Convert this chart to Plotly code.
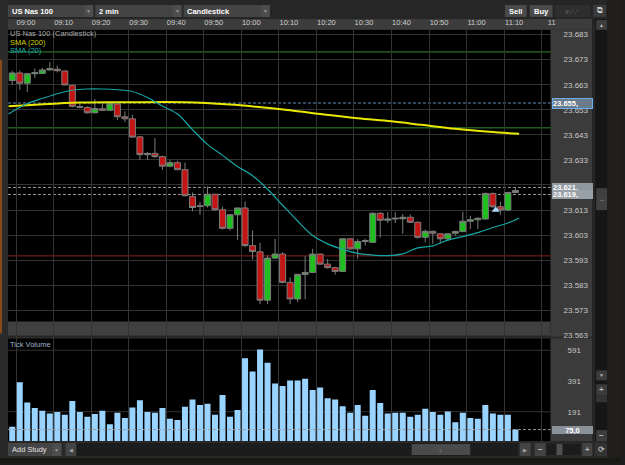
import plotly.graph_objects as go
import pandas as pd

# ---------------- data ----------------
open_ = [23664.7, 23667.7, 23663.6, 23667.4, 23667.5, 23668.9, 23669.2, 23668.5, 23662.8, 23654.3,
         23653.9, 23651.8, 23653.4, 23652.8, 23655.3, 23650.2, 23649.4, 23642.2, 23635.1, 23635.6,
         23634.3, 23630.5, 23631.9, 23629.1, 23618.4, 23614.7, 23614.7, 23619.3, 23613.1, 23605.7,
         23611.1, 23613.8, 23598.8, 23596.3, 23577.0, 23593.8, 23595.4, 23584.1, 23577.5, 23587.3,
         23588.1, 23595.4, 23591.4, 23590.0, 23588.5, 23601.5, 23597.5, 23600.4, 23600.1, 23611.7,
         23608.9, 23609.4, 23609.5, 23610.1, 23608.1, 23602.1, 23604.5, 23603.5, 23601.5, 23603.7,
         23604.4, 23608.5, 23609.1, 23609.4, 23619.6, 23614.3, 23613.0, 23620.0]
high = [23668.6, 23668.7, 23667.7, 23669.5, 23669.8, 23672.0, 23670.6, 23668.7, 23662.9, 23655.3,
        23654.4, 23657.3, 23655.7, 23656.4, 23655.7, 23652.4, 23651.0, 23642.5, 23636.2, 23641.7,
        23634.7, 23633.0, 23632.7, 23631.9, 23620.0, 23616.3, 23622.4, 23619.4, 23614.3, 23611.4,
        23614.0, 23616.4, 23604.8, 23599.9, 23594.9, 23601.5, 23596.2, 23586.1, 23587.6, 23594.6,
        23597.5, 23595.6, 23593.5, 23590.4, 23601.7, 23601.7, 23601.5, 23601.5, 23612.1, 23612.1,
        23612.1, 23612.1, 23611.4, 23611.3, 23608.4, 23605.2, 23604.8, 23603.7, 23603.7, 23604.8,
        23612.3, 23610.7, 23610.1, 23620.0, 23620.0, 23616.3, 23620.3, 23621.9]
low = [23663.0, 23661.0, 23660.1, 23665.7, 23667.5, 23668.7, 23667.9, 23662.8, 23653.9, 23653.6,
       23651.5, 23651.5, 23652.6, 23652.6, 23648.9, 23648.1, 23641.8, 23633.0, 23633.0, 23633.8,
       23629.0, 23630.1, 23628.9, 23618.4, 23612.5, 23611.1, 23614.0, 23612.7, 23605.2, 23604.8,
       23601.1, 23598.2, 23593.3, 23575.4, 23575.4, 23593.5, 23583.7, 23575.4, 23576.3, 23577.4,
       23587.8, 23591.1, 23589.6, 23587.2, 23588.2, 23597.1, 23593.5, 23598.8, 23599.9, 23602.0,
       23607.8, 23607.8, 23603.5, 23607.8, 23601.5, 23600.1, 23599.5, 23599.7, 23600.8, 23602.8,
       23604.1, 23605.4, 23605.4, 23609.1, 23613.9, 23611.1, 23612.5, 23619.7]
close = [23667.7, 23663.6, 23667.4, 23667.8, 23668.9, 23669.4, 23668.6, 23662.9, 23654.4, 23654.0,
         23651.8, 23653.5, 23652.8, 23655.6, 23650.2, 23649.4, 23642.1, 23635.1, 23635.6, 23634.3,
         23630.5, 23631.9, 23629.1, 23618.7, 23614.0, 23614.4, 23619.3, 23613.1, 23605.7, 23611.1,
         23613.8, 23598.8, 23596.4, 23577.0, 23593.8, 23595.4, 23584.1, 23577.5, 23587.3, 23588.1,
         23595.4, 23591.4, 23590.0, 23588.5, 23601.5, 23597.5, 23600.4, 23600.8, 23611.7, 23608.9,
         23609.4, 23609.7, 23610.1, 23608.1, 23602.1, 23604.5, 23603.7, 23601.5, 23603.5, 23604.4,
         23608.5, 23609.1, 23609.7, 23619.6, 23614.3, 23613.0, 23620.0, 23620.8]
tick_volume = [93, 382, 251, 215, 198, 180, 189, 172, 260, 189,
               159, 176, 198, 110, 185, 150, 219, 266, 189, 185,
               215, 146, 137, 223, 270, 234, 243, 172, 300, 159,
               202, 538, 452, 596, 510, 375, 358, 394, 394, 405,
               332, 349, 279, 270, 227, 185, 234, 165, 332, 247,
               180, 185, 185, 159, 172, 210, 189, 172, 193, 123,
               185, 150, 146, 234, 180, 172, 172, 75]
DAY = "2025-12-05 "
candle_times = pd.date_range(DAY + "08:59", periods=len(close), freq="2min")

sma20_t = ["08:58", "09:03", "09:07", "09:11", "09:15", "09:19", "09:23", "09:27", "09:31", "09:35",
           "09:39", "09:43", "09:47", "09:51", "09:55", "09:59", "10:03", "10:07", "10:11", "10:15",
           "10:19", "10:23", "10:27", "10:31", "10:35", "10:39", "10:43", "10:47", "10:51", "10:55",
           "10:59", "11:03", "11:07", "11:11", "11:14"]
sma20_v = [23651.3, 23655.5, 23657.5, 23659.4, 23660.8, 23661.3, 23661.3, 23661.0, 23660.3, 23657.9,
           23654.5, 23651.3, 23645.1, 23639.2, 23634.8, 23630.4, 23626.7, 23621.3, 23614.9, 23608.6,
           23602.8, 23599.5, 23597.3, 23595.7, 23595.0, 23594.8, 23595.5, 23597.9, 23598.7, 23601.0,
           23602.4, 23604.0, 23606.0, 23607.8, 23609.8]
sma200_t = ["08:58", "09:04", "09:17", "09:30", "09:45", "09:57", "10:04", "10:13", "10:22", "10:31",
            "10:40", "10:48", "10:57", "11:06", "11:14"]
sma200_v = [23654.4, 23654.9, 23655.9, 23656.0, 23656.0, 23655.1, 23654.2, 23652.8, 23651.1, 23649.6,
            23648.4, 23647.0, 23645.4, 23644.2, 23643.4]

green_levels = [23676.1, 23645.8]
red_levels = [23594.7]
quote_levels = [23655.7, 23622.0, 23619.2]
quote_labels = ["23.655,", "23.621,", "23.619,"]
volume_level = 75
volume_label = "75,0"
marker_time = "11:07:45"
marker_price = 23613.0

time_ticks = ["09:00", "09:10", "09:20", "09:30", "09:40", "09:50", "10:00", "10:10", "10:20",
              "10:30", "10:40", "10:50", "11:00", "11:10", "11:20"]
time_tick_text = ["09:00", "09:10", "09:20", "09:30", "09:40", "09:50", "10:00", "10:10", "10:20",
                  "10:30", "10:40", "10:50", "11:00", "11:10", "11"]
price_ticks = [23563, 23573, 23583, 23593, 23603, 23613, 23623, 23633, 23643, 23653, 23663, 23673, 23683]
volume_ticks = [191, 391, 591]
volume_grid = [191, 591]

# ---------------- helpers ----------------
W, H = 625, 465
FONT = "Liberation Sans, Arial, sans-serif"


def px(x):
    return x / W


def py(y):
    return 1 - y / H


shapes = []
annos = []


def rect(x0, y0, x1, y1, fill, line=None, layer="below", lw=1):
    shapes.append(dict(type="rect", xref="paper", yref="paper", x0=px(x0), x1=px(x1),
                       y0=py(y1), y1=py(y0), fillcolor=fill, layer=layer,
                       line=dict(width=lw if line else 0, color=line or fill)))


def text(x, y, s, size=7.5, color="#ffffff", bold=False, xanchor="left"):
    annos.append(dict(xref="paper", yref="paper", x=px(x), y=py(y), text=(f"<b>{s}</b>" if bold else s),
                      showarrow=False, xanchor=xanchor, yanchor="middle",
                      font=dict(size=size, color=color, family=FONT), borderpad=0))


# ---------------- chrome ----------------
rect(0, 0, 612, 19, "#262626")
rect(0, 0, 8, 465, "#2a2a2a")
rect(0, 60, 2, 335, "#8a4a18")
rect(612, 0, 625, 465, "#221e1b")
rect(8, 19, 597, 30, "#3c3c3c")
rect(555, 30, 597, 443, "#3b3b3b")
rect(8, 323, 555, 338, "#404040")
rect(8, 338, 597, 340, "#2a2a2a")
rect(597, 19, 600, 443, "#262626")
rect(600, 19, 612, 443, "#161616")
rect(0, 443, 612, 460, "#282828")
rect(0, 460, 625, 465, "#1a1a14")

# toolbar dropdowns
for (x0, x1, lab) in [(8, 94, "US Nas 100"), (96, 183, "2 min"), (185, 272, "Candlestick")]:
    rect(x0, 5, x1, 17, "#444444")
    rect(x1 - 9, 5, x1, 17, "#4d4d4d")
    text(x0 + 3, 11.2, lab, size=7.5, bold=True)
    text(x1 - 4.5, 11.2, "▼", size=5, color="#9a9a9a", xanchor="center")
rect(509, 5, 531, 17, "#4a4a4a")
text(520, 11.2, "Sell", size=7.5, bold=True, xanchor="center")
rect(534, 5, 557, 17, "#4a4a4a")
text(545.5, 11.2, "Buy", size=7.5, bold=True, xanchor="center")
rect(559, 5, 595, 17, "#2e2e2e")
text(577, 11.2, "⩔ ∕ ⟋", size=7, color="#6a6a6a", xanchor="center")
rect(598, 5, 611, 17, "#3a3a3a")
text(604.5, 11, "⧉", size=8, color="#cfcfcf", xanchor="center")

# right scrollbar
rect(601, 20, 612, 30, "#3c3c3c")
text(606.5, 25, "▲", size=5, color="#bbbbbb", xanchor="center")
rect(601, 189, 612, 211, "#404040")
text(606.5, 200, "▬", size=4, color="#666666", xanchor="center")
rect(601, 372, 612, 382, "#3c3c3c")
text(606.5, 377, "▼", size=5, color="#bbbbbb", xanchor="center")
rect(601, 386, 612, 397, "#3c3c3c")
text(606.5, 391.5, "+", size=8, color="#bbbbbb", bold=True, xanchor="center")
rect(601, 397, 612, 404, "#333333")
rect(601, 432, 612, 443, "#3c3c3c")
text(606.5, 437.5, "−", size=8, color="#bbbbbb", bold=True, xanchor="center")

# bottom bar
rect(8, 445, 52, 458, "#444444")
rect(52, 445, 62, 458, "#4d4d4d")
text(11, 451.5, "Add Study", size=7.5, color="#e0e0e0")
text(57, 451.5, "▼", size=5, color="#9a9a9a", xanchor="center")
rect(66, 445, 77, 458, "#444444")
text(71.5, 451.5, "◀", size=5, color="#aaaaaa", xanchor="center")
rect(77, 445, 522, 458, "#1c1c1c")
rect(415, 446, 474, 457, "#4a4a4a")
text(444.5, 451.5, "▮", size=5, color="#5e5e5e", xanchor="center")
rect(524, 445, 535, 458, "#444444")
text(529.5, 451.5, "▶", size=5, color="#aaaaaa", xanchor="center")
rect(539, 445, 550, 458, "#444444")
text(544.5, 451.5, "−", size=8, color="#bbbbbb", bold=True, xanchor="center")
rect(551, 446, 585, 457, "#1c1c1c")
rect(561, 446, 567, 457, "#505050")
rect(587, 445, 597, 458, "#444444")
text(592, 451.5, "+", size=8, color="#bbbbbb", bold=True, xanchor="center")
rect(600, 445, 612, 458, "#333333")
text(606, 451.5, "⟳", size=8, color="#dddddd", xanchor="center")

# ---------------- level lines ----------------
for lv in green_levels:
    shapes.append(dict(type="line", xref="paper", yref="y", x0=px(8), x1=px(555), y0=lv, y1=lv,
                       line=dict(color="#2f8a2f", width=1), layer="between"))
for lv in red_levels:
    shapes.append(dict(type="line", xref="paper", yref="y", x0=px(8), x1=px(555), y0=lv, y1=lv,
                       line=dict(color="#8a1f1f", width=1), layer="between"))
qcols = ["#5f8fc0", "#9a9a9a", "#9a9a9a"]
for lv, c in zip(quote_levels, qcols):
    shapes.append(dict(type="line", xref="paper", yref="y", x0=px(8), x1=px(555), y0=lv, y1=lv,
                       line=dict(color=c, width=1, dash="3px,2px"), layer="between"))
for lv in volume_grid:
    shapes.append(dict(type="line", xref="paper", yref="y2", x0=px(8), x1=px(555), y0=lv, y1=lv,
                       line=dict(color="#333333", width=1), layer="between"))
shapes.append(dict(type="line", xref="paper", yref="y2", x0=px(8), x1=px(555), y0=volume_level,
                   y1=volume_level, line=dict(color="#9a9a9a", width=1, dash="3px,2px"), layer="above"))

# price tags
tag_fill = ["#6a7b8c", "#8f979f", "#98a0a8"]
tag_line = ["#6aaef0", "#8f979f", "#98a0a8"]
tag_h = [9, 7, 7]
for lv, lab, f, l, hh in zip(quote_levels, quote_labels, tag_fill, tag_line, tag_h):
    annos.append(dict(xref="paper", yref="y", x=px(556), y=lv, text=f"<b>{lab}</b>", showarrow=False,
                      xanchor="left", yanchor="middle", bgcolor=f, bordercolor=l, borderwidth=1,
                      borderpad=0, width=39, height=hh, align="left", valign="middle",
                      font=dict(size=7.5, color="#ffffff", family=FONT)))
annos.append(dict(xref="paper", yref="y2", x=px(556), y=volume_level, text=f"<b>{volume_label}</b>",
                  showarrow=False, xanchor="left", yanchor="middle", bgcolor="#8a9199",
                  borderwidth=0, borderpad=0, width=41, height=8, align="center",
                  font=dict(size=7.5, color="#ffffff", family=FONT)))

# pane labels
text(9, 33.7, "US Nas 100 (Candlestick)", size=7.5, color="#a8a8a8")
text(9, 42.3, "SMA (200)", size=7.5, color="#d0d000")
text(9, 50.3, "SMA (20)", size=7.5, color="#1fb0b0")
text(9, 345.7, "Tick Volume", size=7.5, color="#9fb4c8")

# ---------------- traces ----------------
fig = go.Figure()
fig.add_trace(go.Bar(x=candle_times, y=tick_volume, xaxis="x2", yaxis="y2",
                     marker=dict(color="#99d3ff", line=dict(width=0)), showlegend=False))
fig.add_trace(go.Candlestick(x=candle_times, open=open_, high=high, low=low, close=close,
                             increasing=dict(fillcolor="#1fbf1f", line=dict(color="#7c7c7c", width=1)),
                             decreasing=dict(fillcolor="#c41515", line=dict(color="#7c7c7c", width=1)),
                             showlegend=False))
fig.add_trace(go.Scatter(x=[DAY + t for t in sma200_t], y=sma200_v, mode="lines",
                         line=dict(color="#e8e800", width=2, shape="spline"), showlegend=False))
fig.add_trace(go.Scatter(x=[DAY + t for t in sma20_t], y=sma20_v, mode="lines",
                         line=dict(color="#17a6a6", width=1.2, shape="spline"), showlegend=False))
fig.add_trace(go.Scatter(x=[DAY + marker_time], y=[marker_price], mode="markers",
                         marker=dict(symbol="triangle-up", size=7, color="#a9d8ff"), showlegend=False))

xr = [DAY + "08:57:51", DAY + "11:22:22"]
grid = "#333333"
fig.update_layout(
    width=W, height=H, margin=dict(l=0, r=0, t=0, b=0),
    paper_bgcolor="#1d1d1d", plot_bgcolor="#000000",
    separators=",.", bargap=0.2, boxgap=0.2, boxgroupgap=0, showlegend=False,
    font=dict(family=FONT, color="#c8c8c8", size=8),
    xaxis=dict(domain=[px(8), px(555)], anchor="y", side="top", range=xr, type="date",
               tickvals=[DAY + t for t in time_ticks], ticktext=time_tick_text,
               showgrid=True, gridcolor=grid, gridwidth=1, zeroline=False, showline=False,
               ticks="", ticklabelshift=10, ticklabelstandoff=2,
               tickfont=dict(size=7.5, color="#cfcfcf"), rangeslider=dict(visible=False),
               fixedrange=True),
    xaxis2=dict(domain=[px(8), px(555)], anchor="y2", matches="x", type="date",
                tickvals=[DAY + t for t in time_ticks], showticklabels=False,
                showgrid=True, gridcolor=grid, zeroline=False, showline=False,
                rangeslider=dict(visible=False)),
    yaxis=dict(domain=[py(340), py(30)], anchor="x", side="right", range=[23561.7, 23684.9],
               tickvals=price_ticks, tickformat=",d", showgrid=True, gridcolor=grid,
               zeroline=False, showline=False, ticks="", ticklabelstandoff=12,
               tickfont=dict(size=8, color="#c8c8c8")),
    yaxis2=dict(domain=[py(443), py(340)], anchor="x2", side="right", range=[0, 667],
                tickvals=volume_ticks, showgrid=False, zeroline=False, showline=False,
                ticks="", ticklabelstandoff=16, tickfont=dict(size=8, color="#c8c8c8")),
    shapes=shapes, annotations=annos,
)
fig.write_html("out.html")
